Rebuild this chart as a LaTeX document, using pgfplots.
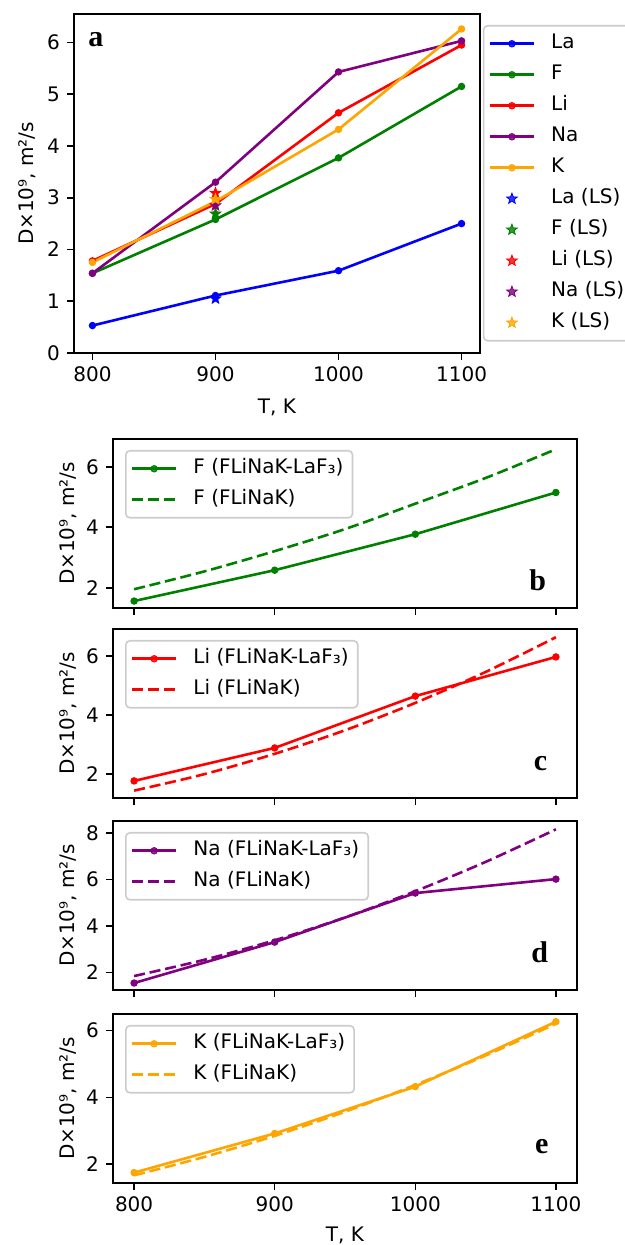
\documentclass[border=0pt]{standalone}
\usepackage{pgfplots}
\pgfplotsset{compat=1.18}
\usepackage{fontspec}
\setmainfont{DejaVu Sans}
\newfontfamily\letterfont{Liberation Serif}

\definecolor{mplblue}{RGB}{0,0,255}
\definecolor{mplgreen}{RGB}{0,128,0}
\definecolor{mplred}{RGB}{255,0,0}
\definecolor{mplpurple}{RGB}{128,0,128}
\definecolor{mplorange}{RGB}{255,165,0}
\definecolor{legframe}{RGB}{204,204,204}

% filled five-pointed star
\pgfdeclareplotmark{fstar}{%
  \pgfpathmoveto{\pgfpointpolar{90}{\pgfplotmarksize}}%
  \pgfpathlineto{\pgfpointpolar{126}{0.42\pgfplotmarksize}}%
  \pgfpathlineto{\pgfpointpolar{162}{\pgfplotmarksize}}%
  \pgfpathlineto{\pgfpointpolar{198}{0.42\pgfplotmarksize}}%
  \pgfpathlineto{\pgfpointpolar{234}{\pgfplotmarksize}}%
  \pgfpathlineto{\pgfpointpolar{270}{0.42\pgfplotmarksize}}%
  \pgfpathlineto{\pgfpointpolar{306}{\pgfplotmarksize}}%
  \pgfpathlineto{\pgfpointpolar{342}{0.42\pgfplotmarksize}}%
  \pgfpathlineto{\pgfpointpolar{18}{\pgfplotmarksize}}%
  \pgfpathlineto{\pgfpointpolar{54}{0.42\pgfplotmarksize}}%
  \pgfpathclose
  \pgfusepathqfillstroke
}

\tikzset{panelletter/.style={anchor=base, font=\letterfont\bfseries\fontsize{15}{15}\selectfont}}

\pgfplotsset{
  mplax/.style={
    scale only axis,
    axis line style={line width=0.8pt},
    tick align=outside, tick pos=left,
    major tick length=3.5pt,
    every tick/.style={black, line width=0.8pt},
    xmin=785, xmax=1115,
    xtick={800,900,1000,1100},
    /pgf/number format/1000 sep={},
    /pgf/number format/assume math mode=true,
    tick label style={font=\fontsize{10}{12}\selectfont},
    label style={font=\fontsize{10}{12}\selectfont},
    legend cell align=left,
    legend style={
      font=\fontsize{10}{12}\selectfont,
      draw=legframe, line width=0.8pt, rounded corners=2pt,
      fill=white, fill opacity=0.8, text opacity=1,
      inner xsep=2.5pt, inner ysep=1.5pt,
      nodes={inner xsep=2pt, inner ysep=2.5pt, text height=7.5pt, text depth=2.5pt},
      row sep=0.5pt,
      /tikz/every odd column/.append style={column sep=6pt},
    },
    every axis plot/.append style={line width=1.3pt},
  },
  % legend sample: a 22pt line with the mark at its middle
  wideleg/.style={legend image code/.code={\draw[mark repeat=2,mark phase=2,##1] plot coordinates {(0pt,0pt) (11pt,0pt) (22pt,0pt)};}},
  dotline/.style={#1, mark=*, mark size=1.6pt, mark options={solid, line width=0.5pt}, wideleg},
  starmark/.style={#1, only marks, mark=fstar, mark size=2.8pt, mark options={line width=0.4pt}, wideleg},
  mpldash/.style={#1, no marks, smooth, dash pattern=on 5.55pt off 2.4pt, wideleg},
}

\begin{document}
\begin{tikzpicture}
\useasboundingbox (0,0) rectangle (312.5pt,622.5pt);
\clip (0,0) rectangle (312.5pt,622.5pt);

% (a) all species in FLiNaK-LaF3
\begin{axis}[mplax,
  at={(37pt,446pt)}, anchor=south west,
  width=203pt, height=169.5pt,
  ymin=0, ymax=6.55, ytick={0,1,2,3,4,5,6},
  xlabel={T, K}, ylabel={D×10⁹, m²/s},
  xlabel style={at={(axis description cs:0.5,0)}, anchor=center, yshift=-27pt},
  ylabel style={at={(axis description cs:-0.116,0.5)}, anchor=center},
  legend style={at={(1.007,0.9676)}, anchor=north west},
]
\addplot[dotline=mplblue] coordinates {(800,0.53) (900,1.11) (1000,1.59) (1100,2.50)};
\addlegendentry{La}
\addplot[dotline=mplgreen] coordinates {(800,1.54) (900,2.58) (1000,3.77) (1100,5.15)};
\addlegendentry{F}
\addplot[dotline=mplred] coordinates {(800,1.78) (900,2.88) (1000,4.64) (1100,5.95)};
\addlegendentry{Li}
\addplot[dotline=mplpurple] coordinates {(800,1.54) (900,3.30) (1000,5.43) (1100,6.03)};
\addlegendentry{Na}
\addplot[dotline=mplorange] coordinates {(800,1.75) (900,2.93) (1000,4.32) (1100,6.26)};
\addlegendentry{K}
\addplot[starmark=mplblue] coordinates {(900,1.05)};
\addlegendentry{La (LS)}
\addplot[starmark=mplgreen] coordinates {(900,2.69)};
\addlegendentry{F (LS)}
\addplot[starmark=mplred] coordinates {(900,3.09)};
\addlegendentry{Li (LS)}
\addplot[starmark=mplpurple] coordinates {(900,2.85)};
\addlegendentry{Na (LS)}
\addplot[starmark=mplorange] coordinates {(900,2.97)};
\addlegendentry{K (LS)}
\node[panelletter] at (rel axis cs:0.054,0.903) {a};
\end{axis}

% (b) F
\begin{axis}[mplax,
  at={(56.5pt,318.5pt)}, anchor=south west,
  width=232pt, height=84.5pt,
  ymin=1.33, ymax=6.92, ytick={2,4,6}, xticklabels={},
  ylabel={D×10⁹, m²/s},
  ylabel style={at={(axis description cs:-0.097,0.5)}, anchor=center},
  legend style={at={(0.026,0.935)}, anchor=north west},
]
\addplot[dotline=mplgreen] coordinates {(800,1.56) (900,2.58) (1000,3.77) (1100,5.15)};
\addlegendentry{F (FLiNaK-LaF₃)}
\addplot[mpldash=mplgreen] coordinates {(800,1.95) (850,2.54) (900,3.21) (950,3.94) (1000,4.78) (1050,5.63) (1100,6.58)};
\addlegendentry{F (FLiNaK)}
\node[panelletter] at (axis cs:1087,1.92) {b};
\end{axis}

% (c) Li
\begin{axis}[mplax,
  at={(56.5pt,223.5pt)}, anchor=south west,
  width=232pt, height=84.5pt,
  ymin=1.18, ymax=6.92, ytick={2,4,6}, xticklabels={},
  ylabel={D×10⁹, m²/s},
  ylabel style={at={(axis description cs:-0.097,0.5)}, anchor=center},
  legend style={at={(0.026,0.935)}, anchor=north west},
]
\addplot[dotline=mplred] coordinates {(800,1.76) (900,2.88) (1000,4.64) (1100,5.97)};
\addlegendentry{Li (FLiNaK-LaF₃)}
\addplot[mpldash=mplred] coordinates {(800,1.43) (850,1.99) (900,2.68) (950,3.48) (1000,4.41) (1050,5.46) (1100,6.64)};
\addlegendentry{Li (FLiNaK)}
\node[panelletter] at (axis cs:1089,2.13) {c};
\end{axis}

% (d) Na
\begin{axis}[mplax,
  at={(56.5pt,127.5pt)}, anchor=south west,
  width=232pt, height=84.5pt,
  ymin=1.25, ymax=8.52, ytick={2,4,6,8}, xticklabels={},
  ylabel={D×10⁹, m²/s},
  ylabel style={at={(axis description cs:-0.097,0.5)}, anchor=center},
  legend style={at={(0.026,0.935)}, anchor=north west},
]
\addplot[dotline=mplpurple] coordinates {(800,1.55) (900,3.31) (1000,5.42) (1100,6.02)};
\addlegendentry{Na (FLiNaK-LaF₃)}
\addplot[mpldash=mplpurple] coordinates {(800,1.85) (850,2.55) (900,3.39) (950,4.37) (1000,5.50) (1050,6.76) (1100,8.16)};
\addlegendentry{Na (FLiNaK)}
\node[panelletter] at (axis cs:1088.5,2.44) {d};
\end{axis}

% (e) K
\begin{axis}[mplax,
  at={(56.5pt,31pt)}, anchor=south west,
  width=232pt, height=84.5pt,
  ymin=1.44, ymax=6.49, ytick={2,4,6},
  xlabel={T, K}, ylabel={D×10⁹, m²/s},
  xlabel style={at={(axis description cs:0.5,0)}, anchor=center, yshift=-26pt},
  ylabel style={at={(axis description cs:-0.097,0.5)}, anchor=center},
  legend style={at={(0.026,0.935)}, anchor=north west},
]
\addplot[dotline=mplorange] coordinates {(800,1.75) (900,2.92) (1000,4.32) (1100,6.26)};
\addlegendentry{K (FLiNaK-LaF₃)}
\addplot[mpldash=mplorange] coordinates {(800,1.67) (850,2.22) (900,2.85) (950,3.57) (1000,4.37) (1050,5.25) (1100,6.20)};
\addlegendentry{K (FLiNaK)}
\node[panelletter] at (axis cs:1090,2.33) {e};
\end{axis}
\end{tikzpicture}
\end{document}
